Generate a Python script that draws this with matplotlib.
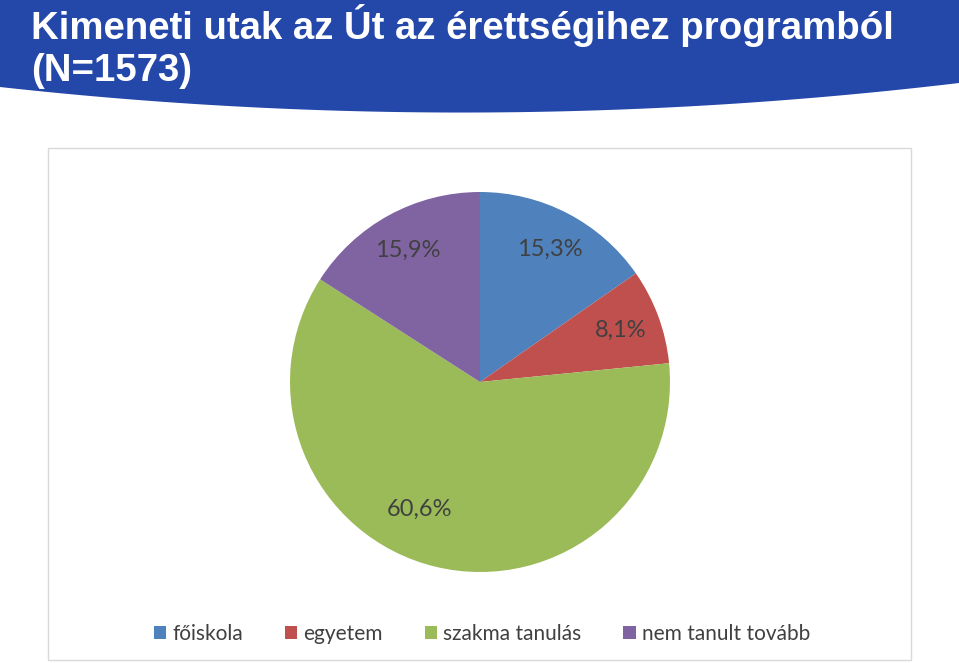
import numpy as np
import matplotlib.pyplot as plt
from matplotlib.patches import Polygon, Rectangle

# data
categories = ["főiskola", "egyetem", "szakma tanulás", "nem tanult tovább"]
values = [15.3, 8.1, 60.6, 15.9]
colors = ["#4F81BD", "#C0504D", "#9BBB59", "#8064A2"]
title = "Kimeneti utak az Út az érettségihez programból\n(N=1573)"

W, H = 959, 663
fig = plt.figure(figsize=(W / 100, H / 100), dpi=100)
fig.patch.set_facecolor("white")

# blue header band with curved bottom edge
xs = np.linspace(0, W, 200)
t = xs / W
bottom = 87 * (1 - t) ** 2 + 2 * t * (1 - t) * 140 + 83 * t ** 2
pts = [(0, H)] + [(x, H - y) for x, y in zip(xs, bottom)] + [(W, H)]
pts = [(x / W, y / H) for x, y in pts]
fig.patches.append(Polygon(pts, closed=True, transform=fig.transFigure,
                           facecolor="#2447AA", edgecolor="none", zorder=-2))
fig.text(31 / W, 1 - 4 / H, title, color="white", fontsize=27.6,
         fontweight="bold", family="Liberation Sans", va="top", ha="left",
         linespacing=1.22)

# chart frame
fig.patches.append(Rectangle((48 / W, 1 - 660 / H), 863 / W, 512 / H,
                             transform=fig.transFigure, facecolor="none",
                             edgecolor="#D9D9D9", linewidth=1, zorder=-1))

# pie
ax = fig.add_axes([(480 - 190) / W, 1 - (382 + 190) / H, 380 / W, 380 / H])
wedges, texts, autotexts = ax.pie(values, colors=colors, startangle=90,
                                  counterclock=False, autopct="%1.1f",
                                  pctdistance=0.79,
                                  wedgeprops=dict(linewidth=0))
for w, at, v in zip(wedges, autotexts, values):
    at.set_text(f"{v:.1f}%".replace(".", ","))
    at.set_color("#404040")
    at.set_fontsize(17)
    at.set_family("Lato")
    if v == max(values):
        # excel "best fit" pushes the big label a bit left
        ang = np.deg2rad((w.theta1 + w.theta2) / 2 - 12)
        at.set_position((0.74 * np.cos(ang), 0.74 * np.sin(ang)))
ax.set_xlim(-1, 1)
ax.set_ylim(-1, 1)
ax.set_aspect("equal")

leg = fig.legend(wedges, categories, loc="center", ncol=4,
                 bbox_to_anchor=(482 / W, 1 - 634 / H), frameon=False,
                 prop=dict(family="Lato", size=15), handlelength=0.6,
                 handleheight=0.6, handletextpad=0.3, columnspacing=2.0)
for txt in leg.get_texts():
    txt.set_color("#404040")

fig.savefig("out.png", dpi=100)
